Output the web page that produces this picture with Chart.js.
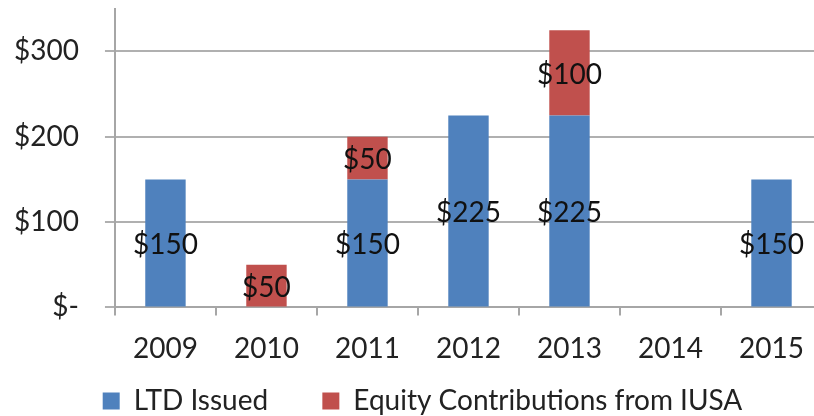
<!DOCTYPE html>
<html>
<head>
<meta charset="utf-8">
<script src="https://cdn.jsdelivr.net/npm/chart.js@4/dist/chart.umd.min.js"></script>
<style>
  html, body { margin: 0; padding: 0; background: #fff; }
  #wrap { width: 814px; height: 416px; overflow: hidden; }
  #myChart { display: block; margin-top: -34px; }
</style>
</head>
<body>
<div id="wrap"><canvas id="myChart" width="822" height="450"></canvas></div>
<script>
var years = ["2009", "2010", "2011", "2012", "2013", "2014", "2015"];
var ltdIssued = [150, null, 150, 225, 225, null, 150];
var equityIusa = [null, 50, 50, null, 100, null, null];
var yTicks = [0, 100, 200, 300];

var fontName = "Lato";
var fontSize = 28;

// writes the value in the middle of every bar segment
var barLabels = {
  id: "barLabels",
  afterDatasetsDraw: function (chart) {
    var ctx = chart.ctx;
    ctx.save();
    ctx.font = fontSize + "px " + fontName;
    ctx.fillStyle = "#111";
    ctx.textAlign = "center";
    ctx.textBaseline = "middle";
    chart.data.datasets.forEach(function (ds, i) {
      var meta = chart.getDatasetMeta(i);
      meta.data.forEach(function (bar, j) {
        var v = ds.data[j];
        if (!v) return;
        var p = bar.getCenterPoint();
        ctx.fillText("$" + v, p.x, p.y + 2);
      });
    });
    ctx.restore();
  }
};

new Chart("myChart", {
  type: "bar",
  data: {
    labels: years,
    datasets: [{
      label: "LTD Issued",
      data: ltdIssued,
      backgroundColor: "#4F81BD",
      categoryPercentage: 1,
      barPercentage: 0.4
    }, {
      label: "Equity Contributions from IUSA",
      data: equityIusa,
      backgroundColor: "#C0504D",
      categoryPercentage: 1,
      barPercentage: 0.4
    }]
  },
  options: {
    responsive: false,
    animation: false,
    layout: { padding: { top: -22, left: -12, right: 0, bottom: -9 } },
    scales: {
      x: {
        stacked: true,
        border: { color: "#a6a6a6", width: 2 },
        grid: { drawOnChartArea: false, drawTicks: true, tickLength: 8, color: "#a6a6a6", lineWidth: 2 },
        ticks: { color: "#222", font: { family: fontName, size: fontSize }, padding: 17 }
      },
      y: {
        stacked: true,
        min: 0,
        max: 350,
        border: { color: "#a6a6a6", width: 2 },
        grid: { color: "#b0b0b0", lineWidth: 2, tickLength: 10 },
        afterBuildTicks: function (axis) {
          axis.ticks = yTicks.map(function (v) { return { value: v }; });
        },
        ticks: {
          color: "#222",
          font: { family: fontName, size: fontSize },
          padding: 26,
          callback: function (v) { return v === 0 ? "$-" : "$" + v; }
        }
      }
    },
    plugins: {
      legend: {
        position: "bottom",
        labels: {
          color: "#222",
          font: { family: fontName, size: fontSize },
          boxWidth: 17,
          boxHeight: 17,
          padding: 4,
          generateLabels: function (chart) {
            var items = Chart.defaults.plugins.legend.labels.generateLabels(chart);
            items[0].text = items[0].text + "       ";
            // blank spacer so the legend sits a bit right of centre, like the original
            items.unshift({ text: "", fillStyle: "rgba(0,0,0,0)", strokeStyle: "rgba(0,0,0,0)", lineWidth: 0, hidden: false, datasetIndex: -1 });
            return items;
          }
        }
      },
      tooltip: { enabled: false }
    }
  },
  plugins: [barLabels]
});
</script>
</body>
</html>
